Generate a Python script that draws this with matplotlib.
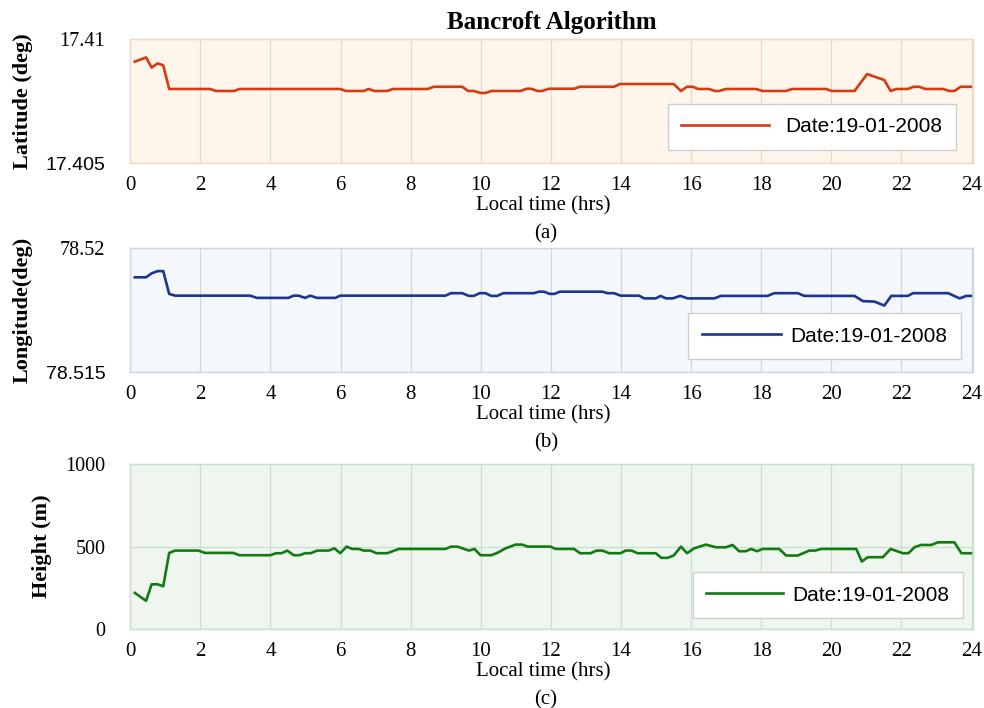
import matplotlib.pyplot as plt

# Bancroft position solution over one day (vertices of each trace)
lat_time = [0.13, 0.45, 0.61, 0.78, 0.94, 1.11, 2.28, 2.44, 2.97, 3.11, 5.99, 6.15,
            6.66, 6.80, 6.96, 7.33, 7.49, 8.49, 8.66, 9.47, 9.64, 9.80, 9.99, 10.13,
            10.31, 11.13, 11.31, 11.44, 11.61, 11.75, 11.94, 12.66, 12.83, 13.80,
            13.97, 15.50, 15.71, 15.88, 16.04, 16.20, 16.51, 16.68, 16.80, 16.99,
            17.85, 18.04, 18.71, 18.87, 19.85, 20.01, 20.66, 21.02, 21.51, 21.69,
            21.85, 22.18, 22.35, 22.51, 22.68, 23.18, 23.37, 23.51, 23.69, 23.98]
latitude = [17.40909, 17.40926, 17.40885, 17.40902, 17.40894, 17.40799, 17.40799,
            17.40791, 17.40791, 17.40799, 17.40799, 17.40791, 17.40791, 17.40799,
            17.40791, 17.40791, 17.40799, 17.40799, 17.40808, 17.40808, 17.40791,
            17.40791, 17.40783, 17.40783, 17.40791, 17.40791, 17.40800, 17.40800,
            17.40791, 17.40791, 17.40800, 17.40800, 17.40808, 17.40808, 17.40819,
            17.40819, 17.40791, 17.40808, 17.40808, 17.40799, 17.40799, 17.40791,
            17.40791, 17.40799, 17.40799, 17.40791, 17.40791, 17.40799, 17.40799,
            17.40791, 17.40791, 17.40859, 17.40835, 17.40791, 17.40799, 17.40799,
            17.40808, 17.40808, 17.40799, 17.40799, 17.40791, 17.40791, 17.40808,
            17.40808]

lon_time = [0.13, 0.45, 0.61, 0.78, 0.94, 1.11, 1.28, 3.42, 3.61, 4.51, 4.66, 4.80,
            4.99, 5.13, 5.33, 5.85, 5.99, 8.99, 9.15, 9.47, 9.66, 9.80, 9.97, 10.13,
            10.30, 10.47, 10.64, 11.51, 11.66, 11.80, 11.97, 12.10, 12.25, 13.47,
            13.61, 13.80, 13.99, 14.51, 14.66, 14.99, 15.13, 15.28, 15.47, 15.69,
            15.90, 16.66, 16.85, 18.18, 18.37, 19.04, 19.23, 20.66, 20.90, 21.23,
            21.51, 21.71, 22.18, 22.33, 23.33, 23.66, 23.85, 23.98]
longitude = [78.51883, 78.51883, 78.51899, 78.51908, 78.51908, 78.51816, 78.51809,
             78.51809, 78.51800, 78.51800, 78.51809, 78.51809, 78.51800, 78.51809,
             78.51800, 78.51800, 78.51809, 78.51809, 78.51819, 78.51819, 78.51808,
             78.51808, 78.51819, 78.51819, 78.51808, 78.51808, 78.51819, 78.51819,
             78.51825, 78.51825, 78.51816, 78.51816, 78.51825, 78.51825, 78.51819,
             78.51819, 78.51809, 78.51809, 78.51798, 78.51798, 78.51808, 78.51798,
             78.51798, 78.51808, 78.51798, 78.51798, 78.51808, 78.51808, 78.51819,
             78.51819, 78.51808, 78.51808, 78.51787, 78.51785, 78.51769, 78.51808,
             78.51808, 78.51819, 78.51819, 78.51798, 78.51808, 78.51808]

hgt_time = [0.13, 0.45, 0.61, 0.78, 0.94, 1.11, 1.28, 1.94, 2.13, 2.94, 3.11, 3.99,
            4.16, 4.32, 4.48, 4.66, 4.83, 4.99, 5.15, 5.33, 5.66, 5.82, 5.99, 6.17,
            6.33, 6.51, 6.66, 6.85, 7.02, 7.33, 7.66, 8.99, 9.15, 9.33, 9.66, 9.82,
            9.99, 10.30, 10.47, 10.71, 10.99, 11.18, 11.34, 11.99, 12.13, 12.66,
            12.83, 13.13, 13.30, 13.47, 13.66, 13.99, 14.13, 14.30, 14.47, 14.99,
            15.15, 15.33, 15.50, 15.71, 15.88, 16.09, 16.42, 16.71, 16.99, 17.18,
            17.37, 17.56, 17.71, 17.88, 18.04, 18.51, 18.71, 19.04, 19.37, 19.54,
            19.71, 20.71, 20.87, 21.04, 21.47, 21.69, 22.04, 22.20, 22.37, 22.56,
            22.85, 23.04, 23.51, 23.71, 23.98]
height = [220, 172, 272, 272, 260, 462, 476, 476, 462, 462, 448, 448, 460, 460, 476,
          448, 448, 460, 460, 476, 476, 490, 460, 500, 486, 486, 476, 476, 460, 460,
          486, 486, 500, 500, 476, 486, 448, 448, 462, 490, 512, 512, 500, 500, 486,
          486, 460, 460, 476, 476, 460, 460, 476, 476, 460, 460, 432, 432, 446, 500,
          460, 490, 512, 496, 496, 510, 472, 472, 486, 472, 486, 486, 446, 446, 476,
          476, 486, 486, 410, 436, 436, 486, 460, 460, 496, 510, 510, 526, 526, 460,
          460]

x_ticks = [0, 2, 4, 6, 8, 10, 12, 14, 16, 18, 20, 22, 24]
date_label = 'Date:19-01-2008'

SERIF = 'Liberation Serif'
SANS = 'Liberation Sans'


def draw_panel(ax, t, y, color, face, grid, ylim, yticks, ylabel, ylab_x,
               tag, leg_anchor, leg_handle, leg_gap):
    ax.set_facecolor(face)
    ax.plot(t, y, color=color, lw=1.9, label=date_label)
    ax.set_xlim(0, 24.04)
    ax.set_ylim(*ylim)
    ax.set_xticks(x_ticks)
    ax.set_yticks(yticks)
    ax.grid(True, color=grid, lw=0.9)
    ax.set_axisbelow(True)
    for s in ax.spines.values():
        s.set_color(grid)
        s.set_linewidth(1.0)
    ax.tick_params(length=0)
    ax.tick_params(axis='x', pad=9, labelsize=15)
    ax.tick_params(axis='y', pad=18, labelsize=14.5)
    for lab in ax.get_xticklabels() + ax.get_yticklabels():
        lab.set_fontfamily(SERIF)

    ax.set_xlabel('Local time (hrs)', fontfamily=SERIF, fontsize=15)
    h = ax.get_position().height * 708
    ax.xaxis.set_label_coords(0.49, -33 / h)
    ax.set_ylabel(ylabel, fontfamily=SERIF, fontsize=16, fontweight='bold')
    ax.yaxis.set_label_coords(ylab_x, 0.5)
    ax.text(0.493, -71 / h, tag, transform=ax.transAxes, ha='center', va='center',
            fontfamily=SERIF, fontsize=15)

    leg = ax.legend(loc='lower right', bbox_to_anchor=leg_anchor, borderaxespad=0,
                    prop={'family': SANS, 'size': 15}, handlelength=leg_handle,
                    handletextpad=leg_gap, borderpad=0.65, fancybox=False,
                    framealpha=1, edgecolor='#CFCFCF')
    leg.get_frame().set_linewidth(1.0)


fig = plt.figure(figsize=(9.84, 7.08), dpi=100)
ax1 = fig.add_axes([0.1324, 0.7693, 0.8564, 0.1756])
ax2 = fig.add_axes([0.1324, 0.4742, 0.8564, 0.1751])
ax3 = fig.add_axes([0.1324, 0.1112, 0.8564, 0.2335])

draw_panel(ax1, lat_time, latitude, '#D63A10', '#FEF6EA', '#EFD5CA',
           (17.405, 17.41), [17.405, 17.41], 'Latitude (deg)', -0.1155, '(a)',
           (0.98, 0.107), 4.2, 0.8)
draw_panel(ax2, lon_time, longitude, '#1B3591', '#F4F7FC', '#CED6E4',
           (78.515, 78.52), [78.515, 78.52], 'Longitude(deg)', -0.1155, '(b)',
           (0.9855, 0.105), 3.8, 0.45)
draw_panel(ax3, hgt_time, height, '#137A13', '#EFF6EF', '#C8DFCC',
           (0, 1000), [0, 500, 1000], 'Height (m)', -0.093, '(c)',
           (0.9885, 0.0665), 3.7, 0.45)

# the lower latitude/longitude tick labels are set in a sans face
ax1.yaxis.set_major_formatter(plt.FixedFormatter(['17.405', '17.41']))
ax2.yaxis.set_major_formatter(plt.FixedFormatter(['78.515', '78.52']))
for ax in (ax1, ax2):
    for i, lab in enumerate(ax.get_yticklabels()):
        lab.set_fontfamily(SANS if i == 0 else SERIF)
        lab.set_fontsize(14 if i == 0 else 14.5)

ax1.set_title('Bancroft Algorithm', fontfamily=SERIF, fontsize=18,
              fontweight='bold', pad=7)

fig.savefig('out.png', dpi=100)
